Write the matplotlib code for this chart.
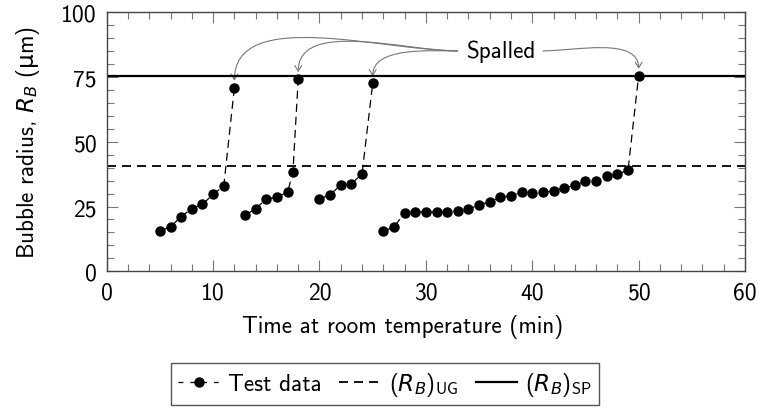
import numpy as np
import matplotlib
matplotlib.use('Agg')
import matplotlib.pyplot as plt
from matplotlib.path import Path
from matplotlib.patches import FancyArrowPatch
from matplotlib.lines import Line2D

plt.rcParams['font.family'] = ['cmss10', 'DejaVu Sans']
plt.rcParams['mathtext.fontset'] = 'custom'
plt.rcParams['mathtext.rm'] = 'cmss10'
plt.rcParams['mathtext.it'] = 'DejaVu Sans:italic'
plt.rcParams['mathtext.sf'] = 'DejaVu Sans'
plt.rcParams['axes.unicode_minus'] = False
plt.rcParams['lines.scale_dashes'] = False

# test data, one list per bubble
t1 = [5, 6, 7, 8, 9, 10, 11, 12]
r1 = [15.5, 17.2, 21.1, 24.2, 25.9, 29.7, 32.9, 70.9]
t2 = [13, 14, 15, 16, 17, 17.5, 18]
r2 = [21.6, 24.2, 27.9, 28.6, 30.6, 38.2, 74.2]
t3 = [20, 21, 22, 23, 24, 25]
r3 = [27.9, 29.6, 33.3, 33.8, 37.6, 72.6]
t4 = [26, 27, 28, 29, 30, 31, 32, 33, 34, 35, 36, 37, 38, 39, 40, 41, 42,
      43, 44, 45, 46, 47, 48, 49, 50]
r4 = [15.5, 17.1, 22.5, 22.9, 22.9, 22.9, 22.9, 23.4, 23.9, 25.7, 26.8, 28.6,
      29.1, 30.5, 30.4, 30.5, 31.0, 32.2, 33.2, 34.8, 34.8, 36.9, 37.5, 39.0, 75.5]

rb_ug = 40.6
rb_sp = 75.3

series = [(t1, r1), (t2, r2), (t3, r3), (t4, r4)]

fig = plt.figure(figsize=(7.58, 4.10), dpi=100)
ax = fig.add_subplot(111)
fig.subplots_adjust(left=0.1408, right=0.9829, bottom=0.3359, top=0.9676)

data_style = dict(color='black', lw=0.9, ls=(0, (5.8, 3.6)), marker='o', ms=6.5)
ug_style = dict(color='black', lw=1.3, ls=(0, (6.5, 4.3)))
sp_style = dict(color='black', lw=1.6)

for t, r in series:
    ax.plot(t, r, **data_style)

ax.axhline(rb_ug, **ug_style)
ax.axhline(rb_sp, **sp_style)

ax.set_xlim(0, 60)
ax.set_ylim(0, 100)
ax.set_xticks(np.arange(0, 61, 10))
ax.set_xticks(np.arange(0, 61, 2), minor=True)
ax.set_yticks(np.arange(0, 101, 25))
ax.set_yticks(np.arange(0, 101, 5), minor=True)
ax.tick_params(which='both', direction='in', top=True, right=True, color='#777',
               width=0.8, labelsize=17, pad=7)
ax.tick_params(which='major', length=8)
ax.tick_params(which='minor', length=5)
for s in ax.spines.values():
    s.set_color('#444')
    s.set_linewidth(1.0)

ax.set_xlabel('Time at room temperature (min)', fontsize=16.7)
ax.set_ylabel(r'Bubble radius, $R_B$ ($\mathsf{\mu}$m)', fontsize=16.7)
ax.xaxis.set_label_coords(0.464, -0.165)
ax.yaxis.set_label_coords(-0.101, 0.5)

# "Spalled" label with curved arrows to the last point of each bubble
txt = ax.text(37, 85.1, 'Spalled', fontsize=16.7, ha='center', va='center')
fig.canvas.draw()
bb = txt.get_window_extent()
cy = (bb.y0 + bb.y1) / 2
to_disp = ax.transData.transform
to_data = ax.transData.inverted().transform


def curved_arrow(p0, p3, out_dir):
    p0 = np.asarray(p0, float)
    p3 = np.asarray(p3, float)
    d = 0.33 * np.hypot(*(p3 - p0))
    p1 = p0 + d * np.asarray(out_dir)
    p2 = p3 + d * np.array([0.0, 1.0])
    verts = to_data(np.array([p0, p1, p2, p3]))
    path = Path(verts, [Path.MOVETO, Path.CURVE4, Path.CURVE4, Path.CURVE4])
    arr = FancyArrowPatch(path=path, arrowstyle='->,head_length=4,head_width=2.5',
                          color='#777', lw=0.8)
    ax.add_patch(arr)


for i, (t, r) in enumerate(series):
    end = to_disp((t[-1], r[-1])) + np.array([0, 7])
    if i < 3:
        curved_arrow((bb.x0 - 8, cy), end, (-1, 0))
    else:
        curved_arrow((bb.x1 + 8, cy), end, (1, 0))

handles = [
    Line2D([], [], color='black', lw=0.9, ls=(0, (3.5, 5)), marker='o', ms=6.5),
    Line2D([], [], **ug_style),
    Line2D([], [], **sp_style),
]
labels = ['Test data', r'$(R_B)_{\mathrm{UG}}$', r'$(R_B)_{\mathrm{SP}}$']
leg = fig.legend(handles, labels, loc='upper center', bbox_to_anchor=(0.508, 0.113),
                 ncol=3, fontsize=16.7, frameon=True, fancybox=False, framealpha=1,
                 edgecolor='#555', handlelength=1.8, handletextpad=0.35,
                 columnspacing=0.75, borderpad=0.3, borderaxespad=0, numpoints=1)
leg.get_frame().set_linewidth(1.0)

fig.savefig('out.png', dpi=100)
